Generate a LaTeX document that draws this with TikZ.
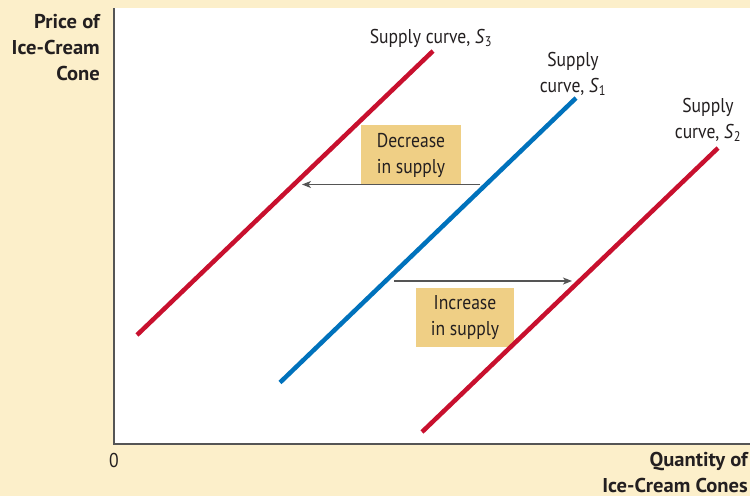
\documentclass[tikz,border=0pt]{standalone}
\usepackage{fontspec}
\setmainfont{PT Sans}[FakeStretch=0.88]
\newfontfamily\axisfont{PT Sans}[FakeStretch=1.03]
\usetikzlibrary{arrows.meta}
\definecolor{cream}{RGB}{252,239,202}
\definecolor{boxfill}{RGB}{239,207,133}
\definecolor{sred}{RGB}{200,16,46}
\definecolor{sblue}{RGB}{0,114,188}
\definecolor{axisgray}{RGB}{85,85,85}
\definecolor{txt}{RGB}{35,31,32}
\tikzset{
  curve/.style={line width=4.5pt},
  shiftarrow/.style={draw=axisgray, line width=1.3pt, -{Stealth[length=9pt,width=7pt,inset=2.5pt]}},
  shiftbox/.style={fill=boxfill, text=txt, minimum width=100pt, minimum height=60pt, align=center, inner sep=0pt, font=\fontsize{20}{26}\selectfont},
  lbl/.style={text=txt, align=center, inner sep=0pt, font=\fontsize{20}{26}\selectfont},
  axlbl/.style={text=txt, align=right, inner sep=0pt, font=\axisfont\fontsize{20}{26}\selectfont\bfseries},
}
\begin{document}
\begin{tikzpicture}[x=1pt,y=-1pt]
\fill[cream] (0,0) rectangle (750,496);
\useasboundingbox (0,0) rectangle (750,496);
\fill[white] (114,8) rectangle (750,444);
% boxes (behind arrows)
\node[shiftbox, minimum width=100pt, minimum height=60pt] (dec) at (411,155) {Decrease\\in supply};
\node[shiftbox, minimum width=98pt, minimum height=59pt] (inc) at (465,317.5) {Increase\\in supply};
% curves
\coordinate (s3a) at (137,335); \coordinate (s3b) at (433,51);
\coordinate (s1a) at (280,382.5); \coordinate (s1b) at (576,98);
\coordinate (s2a) at (422,432); \coordinate (s2b) at (718,148);
\draw[curve, sred] (s3a) -- (s3b);
\draw[curve, sblue] (s1a) -- (s1b);
\draw[curve, sred] (s2a) -- (s2b);
% arrows
\coordinate (decstart) at (480,184.5); \coordinate (decend) at (302,184.5);
\coordinate (incstart) at (394,281); \coordinate (incend) at (572,281);
\draw[shiftarrow] (decstart) -- (decend);
\draw[shiftarrow] (incstart) -- (incend);
% axes
\coordinate (origin) at (114,444);
\coordinate (ytop) at (114,8);
\coordinate (xend) at (750,444);
\draw[axisgray, line width=1.5pt] (ytop) -- (origin) -- (xend);
% labels (base anchor = baseline of the last line)
\node[lbl, anchor=base] (l3) at (431,43) {Supply curve, \textit{S}\textsubscript{3}};
\node[lbl, anchor=base] (l1) at (573,92.5) {Supply\\curve, \textit{S}\textsubscript{1}};
\node[lbl, anchor=base] (l2) at (708,138.5) {Supply\\curve, \textit{S}\textsubscript{2}};
\node[axlbl, anchor=base east] (ylab) at (100,80) {Price of\\Ice-Cream\\Cone};
\node[lbl, anchor=base] (zero) at (114,467) {0};
\node[axlbl, anchor=base east] (xlab) at (748,492) {Quantity of\\Ice-Cream Cones};
\end{tikzpicture}
\end{document}
